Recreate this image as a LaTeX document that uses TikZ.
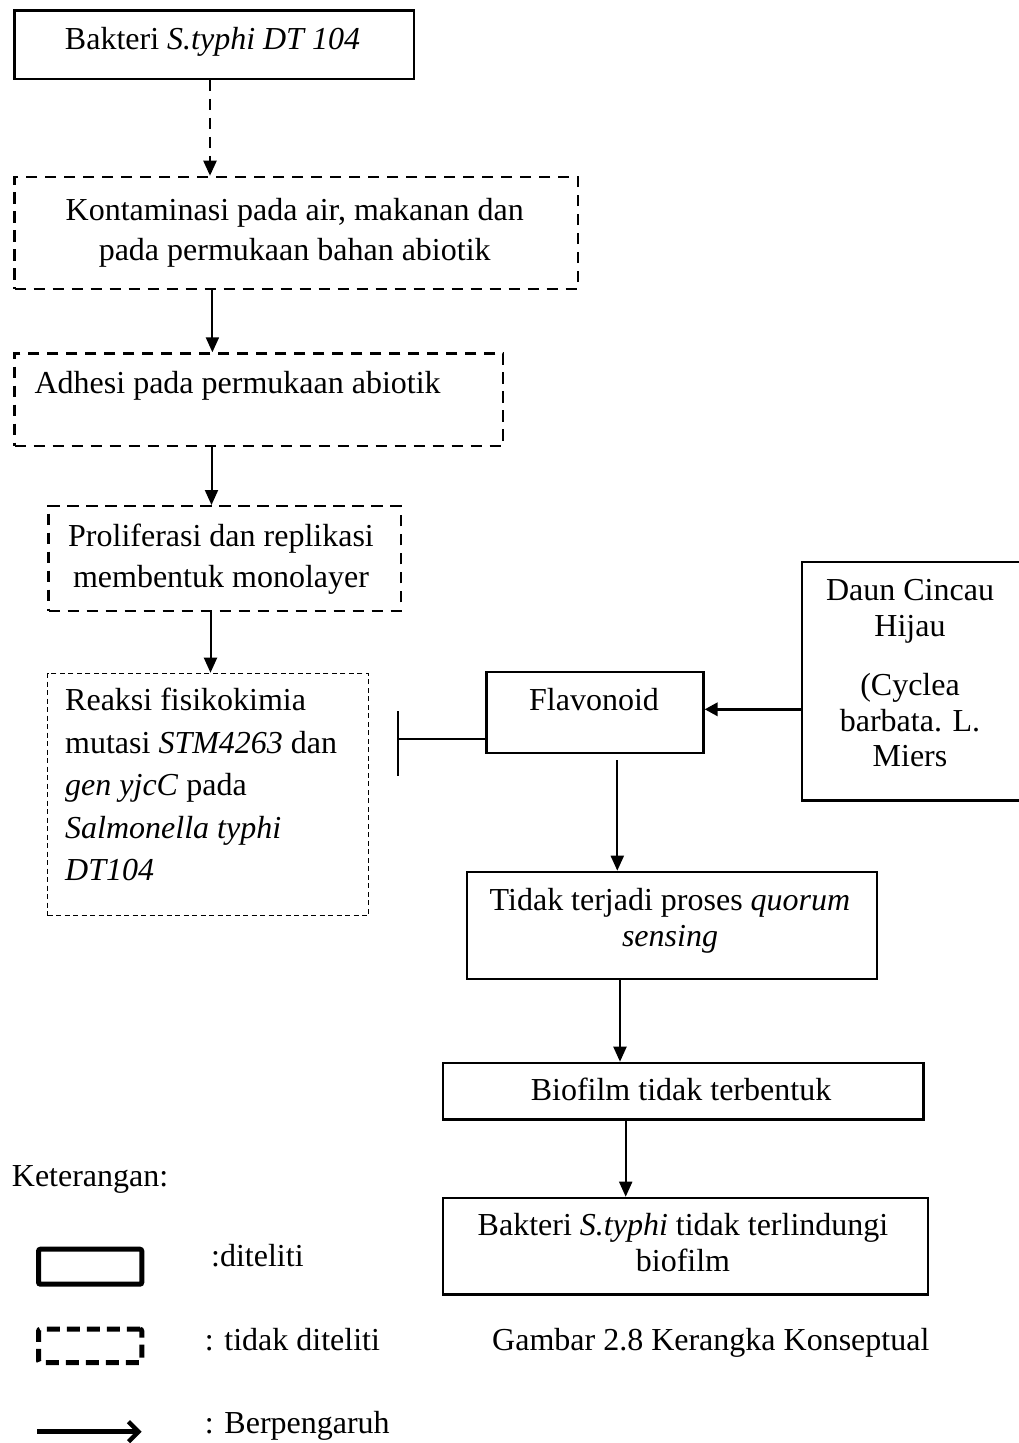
\documentclass[tikz,border=0pt]{standalone}
\usepackage{fontspec}
\setmainfont{Liberation Serif}
\usetikzlibrary{arrows.meta,calc}
\begin{document}
\begin{tikzpicture}[x=1pt,y=-1pt,
  box/.style={draw, line width=2.2pt, inner sep=0pt, anchor=north west},
  dbox/.style={box, dash pattern=on 11.5pt off 7.5pt},
  tdbox/.style={box, line width=1.4pt, dash pattern=on 5pt off 3.5pt},
  arr/.style={line width=2pt, -{Triangle[length=15pt,width=13pt]}},
  txt/.style={inner sep=0pt, font=\fontsize{32}{40}\selectfont},
  lgbox/.style={draw, line width=5pt, rounded corners=2pt, inner sep=0pt, anchor=north west}]
\useasboundingbox (0,0) rectangle (1019,1443);

% boxes
\node[box,  minimum width=399.1pt, minimum height=68.4pt]  (b1)   at (13.4,9.3) {};
\node[dbox, minimum width=563.3pt, minimum height=112pt]   (b2)   at (13.4,175.7) {};
\node[dbox, minimum width=488.6pt, minimum height=92.7pt]  (b3)   at (13.4,352.3) {};
\node[dbox, minimum width=352.2pt, minimum height=105pt]   (b4)   at (47.4,505) {};
\node[tdbox,minimum width=321pt,   minimum height=242.3pt] (b5)   at (46.8,672.7) {};
\node[box,  minimum width=217.1pt, minimum height=81pt]    (flav) at (485.3,671) {};
\node[box,  minimum width=224pt,   minimum height=238.6pt] (daun) at (800.7,560.7) {};
\node[box,  minimum width=410pt,   minimum height=107pt]   (tidak) at (465.7,870.7) {};
\node[box,  minimum width=480.6pt, minimum height=56.6pt]  (bio)  at (441.7,1061.7) {};
\node[box,  minimum width=485pt,   minimum height=96.6pt]  (bak2) at (441.7,1196.7) {};

% texts (multi-line nodes: base anchor is the baseline of the last line)
\node[txt, anchor=base] (t1) at (212.5,49.3) {Bakteri \textit{S.typhi DT 104}};
\node[txt, anchor=base, align=center] (t2) at (294.7,260) {Kontaminasi pada air, makanan dan\\pada permukaan bahan abiotik};
\node[txt, anchor=base west] (t3) at (34.4,393.3) {Adhesi pada permukaan abiotik};
\node[txt, anchor=base, align=center, font=\fontsize{32}{41}\selectfont] (t4) at (221,587) {Proliferasi dan replikasi\\membentuk monolayer};
\node[txt, anchor=base west, align=left, font=\fontsize{32}{42.5}\selectfont] (t5) at (65,880.7) {Reaksi fisikokimia\\mutasi \textit{STM4263} dan\\\textit{gen yjcC} pada\\\textit{Salmonella typhi}\\\textit{DT104}};
\node[txt, anchor=base] (t6) at (594,710) {Flavonoid};
\node[txt, anchor=base, align=center, font=\fontsize{32}{35.5}\selectfont] (t7) at (910,766.7) {Daun Cincau\\Hijau\\[24pt](Cyclea\\barbata. L.\\Miers};
\node[txt, anchor=base, align=center, font=\fontsize{32}{36.7}\selectfont] (t8) at (670,946.7) {Tidak terjadi proses \textit{quorum}\\\textit{sensing}};
\node[txt, anchor=base] (t9) at (681,1100.7) {Biofilm tidak terbentuk};
\node[txt, anchor=base, align=center, font=\fontsize{32}{36.7}\selectfont] (t10) at (683,1271.7) {Bakteri \textit{S.typhi} tidak terlindungi\\biofilm};

% connector columns
\coordinate (x1) at (210,0);
\coordinate (x2) at (212.4,0);
\coordinate (x3) at (211.5,0);
\coordinate (x4) at (210.5,0);
\coordinate (x5) at (617.3,0);
\coordinate (x6) at (620,0);
\coordinate (x7) at (625.7,0);
\coordinate (yd) at (0,709.3);
\coordinate (tb) at (397.7,739);

\draw[arr, line width=2.3pt, dash pattern=on 11pt off 8pt] (b1.south -| x1) -- (b2.north -| x1);
\draw[arr] (b2.south -| x2) -- (b3.north -| x2);
\draw[arr] (b3.south -| x3) -- (b4.north -| x3);
\draw[arr] (b4.south -| x4) -- (b5.north -| x4);
\draw[line width=3.5pt, -{Triangle[length=13pt,width=13pt]}] (daun.west |- yd) -- (flav.east |- yd);
\draw[line width=2pt] (flav.west |- tb) -- (tb);
\draw[line width=2pt] ($(tb)+(0,-28)$) -- ($(tb)+(0,37)$);
\draw[arr] ($(flav.south -| x5)+(0,6)$) -- (tidak.north -| x5);
\draw[arr] (tidak.south -| x6) -- (bio.north -| x6);
\draw[arr] (bio.south -| x7) -- (bak2.north -| x7);

% legend
\node[txt, anchor=base west] (ket) at (11.7,1186.7) {Keterangan:};
\node[lgbox, minimum width=103.3pt, minimum height=35pt] (lg1) at (36,1246.7) {};
\node[lgbox, minimum width=103.3pt, minimum height=33.3pt, dash pattern=on 13pt off 7pt] (lg2) at (36,1326.7) {};
\coordinate (la1) at (37.3,1431.7);
\coordinate (la2) at (141.7,1431.7);
\draw[line width=4.5pt, -{Straight Barb[length=10pt,width=20pt]}] (la1) -- (la2);
\node[txt, anchor=base west] (l1) at (211,1266.7) {:diteliti};
\node[txt, anchor=base west] (l2) at (204.7,1350) {: tidak diteliti};
\node[txt, anchor=base west] (l3) at (204.7,1433) {: Berpengaruh};
\node[txt, anchor=base west] (cap) at (492,1350) {Gambar 2.8 Kerangka Konseptual};
\end{tikzpicture}
\end{document}
